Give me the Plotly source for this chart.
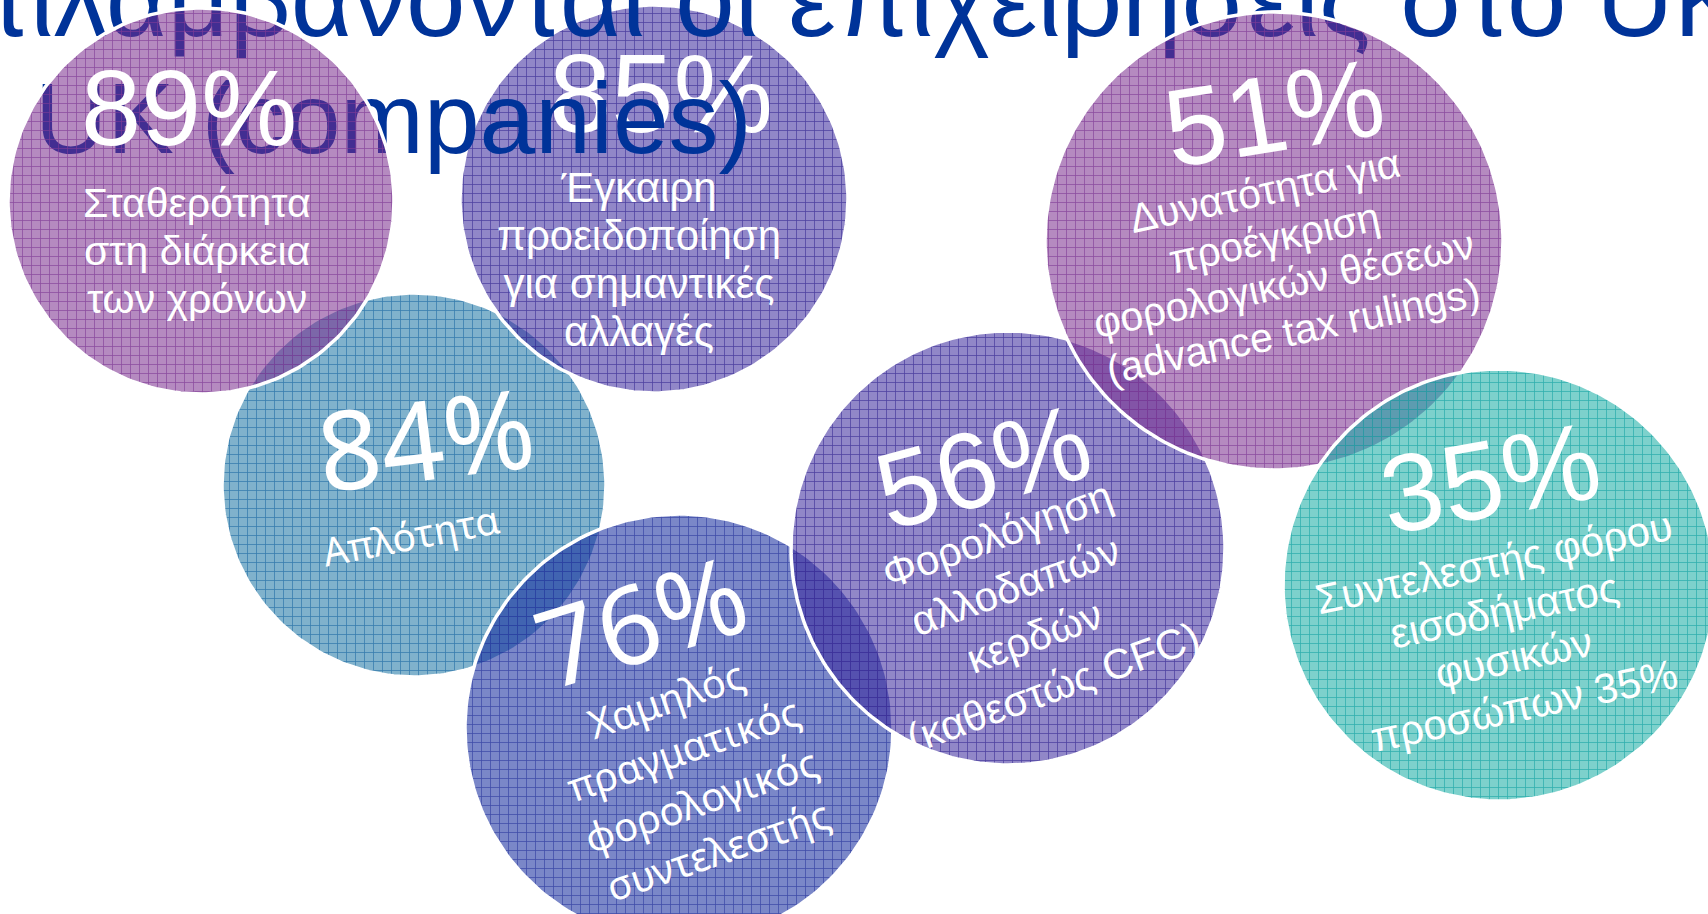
import numpy as np
import plotly.graph_objects as go

# ---------------- data ----------------
pct_values = [89, 85, 84, 76, 56, 51, 35]
factor_labels = [
    ["Σταθερότητα", "στη διάρκεια", "των χρόνων"],
    ["Έγκαιρη", "προειδοποίηση", "για σημαντικές", "αλλαγές"],
    ["Απλότητα"],
    ["Χαμηλός", "πραγματικός", "φορολογικός", "συντελεστής"],
    ["Φορολόγηση", "αλλοδαπών", "κερδών", "(καθεστώς CFC)"],
    ["Δυνατότητα για", "προέγκριση", "φορολογικών θέσεων", "(advance tax rulings)"],
    ["Συντελεστής φόρου", "εισοδήματος", "φυσικών", "προσώπων 35%"],
]
title_lines = ["αντιλαμβάνονται οι επιχειρήσεις στο UK", "UK (companies)"]

# ---------------- layout / style (not data) ----------------
W, H = 1708, 914
circ_x = [201, 654, 414, 679, 1008, 1274, 1499]
circ_y = [201, 199, 485, 728, 548, 241, 585]
circ_r = [193, 194, 192, 214, 217, 229, 216]
ALPHA = 0.55
base_rgb = [(120, 42, 140), (55, 37, 155), (24, 115, 162), (13, 37, 155),
            (55, 37, 155), (120, 42, 140), (19, 170, 162)]
grid_rgb = [(128, 60, 150), (60, 45, 150), (35, 110, 165), (45, 60, 160),
            (60, 45, 150), (128, 60, 150), (25, 165, 165)]

num_font = ["Liberation Sans", "Liberation Sans", "Noto Sans", "Noto Sans",
            "Liberation Sans", "Liberation Sans", "Liberation Sans"]
num_size = [108, 112, 110, 108, 108, 110, 110]
num_angle = [0, 0, -7, -17, -15, -9, -10]
num_x = [189, 661, 425, 640, 983, 1274, 1490]
num_y = [107, 104, 437, 619, 466, 112, 477]

lab_font = ["Liberation Sans", "Liberation Sans", "Noto Sans", "Noto Sans",
            "Liberation Sans", "Liberation Sans", "Liberation Sans"]
lab_size = [41, 42, 39, 40, 42, 41, 42]
lab_angle = [0, 0, -11, -19, -20, -12, -12]
lab_spacing = [48, 48, 0, 53, 54, 48, 49]
lab_x = [197, 639, 410, 692, 1025, 1279, 1509]
lab_y = [251, 263, 534, 774, 611, 261, 634]

title_color = "#003399"
title_size = [107, 100]
title_anchor_x = [1745, 35]
title_baseline = [47, 163]

fig = go.Figure()


def add_circle(i):
    t = np.linspace(0, 2 * np.pi, 241)
    xs = circ_x[i] + circ_r[i] * np.cos(t)
    ys = circ_y[i] + circ_r[i] * np.sin(t)
    r, g, b = base_rgb[i]
    bg = f"rgba({r},{g},{b},{ALPHA})"
    gr, gg, gb = grid_rgb[i]
    fig.add_trace(go.Scatter(
        x=xs, y=ys, mode="lines", fill="toself",
        fillcolor=bg,
        fillpattern=dict(shape="+", size=9, solidity=0.16,
                         bgcolor=bg, fgcolor=f"rgb({gr},{gg},{gb})",
                         fgopacity=0.8, fillmode="replace"),
        line=dict(color="white", width=3.5),
        hoverinfo="skip", showlegend=False,
    ))


def line_positions(i):
    n = len(factor_labels[i])
    th = np.radians(lab_angle[i])
    out = []
    for k in range(n):
        off = (k - (n - 1) / 2) * lab_spacing[i]
        out.append((lab_x[i] - np.sin(th) * off, lab_y[i] + np.cos(th) * off))
    return out


def add_text_trace(i):
    # un-rotated texts drawn as a trace so they can sit below the title
    pos = line_positions(i)
    fig.add_trace(go.Scatter(
        x=[num_x[i]], y=[num_y[i]], mode="text", text=[f"{pct_values[i]}%"],
        textposition="middle center",
        textfont=dict(family=num_font[i], size=num_size[i], color="white"),
        hoverinfo="skip", showlegend=False, cliponaxis=True))
    fig.add_trace(go.Scatter(
        x=[p[0] for p in pos], y=[p[1] for p in pos], mode="text",
        text=factor_labels[i], textposition="middle center",
        textfont=dict(family=lab_font[i], size=lab_size[i], color="white"),
        hoverinfo="skip", showlegend=False, cliponaxis=True))


def add_text_annotations(i):
    fig.add_annotation(x=num_x[i], y=num_y[i], xref="x", yref="y",
                       text=f"{pct_values[i]}%", showarrow=False,
                       textangle=num_angle[i], xanchor="center", yanchor="middle",
                       font=dict(family=num_font[i], size=num_size[i], color="white"))
    for (px, py), txt in zip(line_positions(i), factor_labels[i]):
        fig.add_annotation(x=px, y=py, xref="x", yref="y", text=txt,
                           showarrow=False, textangle=lab_angle[i],
                           xanchor="center", yanchor="middle",
                           font=dict(family=lab_font[i], size=lab_size[i], color="white"))


# drawing order: 84, 85 (+ its texts), title, 89, 76, 56, 51, 35
add_circle(2)
add_circle(1)
add_text_trace(1)

for j, tpos in enumerate(["middle left", "middle right"]):
    fig.add_trace(go.Scatter(
        x=[title_anchor_x[j]], y=[title_baseline[j] - 0.35 * title_size[j]],
        mode="text", text=[title_lines[j]], textposition=tpos,
        textfont=dict(family="Liberation Sans", size=title_size[j], color=title_color),
        hoverinfo="skip", showlegend=False, cliponaxis=True))

for idx in [0, 3, 4, 5, 6]:
    add_circle(idx)

for idx in [0, 2, 3, 4, 5, 6]:
    add_text_annotations(idx)

fig.update_layout(
    width=W, height=H,
    margin=dict(l=0, r=0, t=0, b=0),
    paper_bgcolor="white", plot_bgcolor="white",
    showlegend=False,
    xaxis=dict(range=[0, W], visible=False, fixedrange=True),
    yaxis=dict(range=[H, 0], visible=False, fixedrange=True),
)

fig.write_html("out.html", config={"displayModeBar": False},
               post_script="document.body.style.margin='0';document.body.style.overflow='hidden';")
